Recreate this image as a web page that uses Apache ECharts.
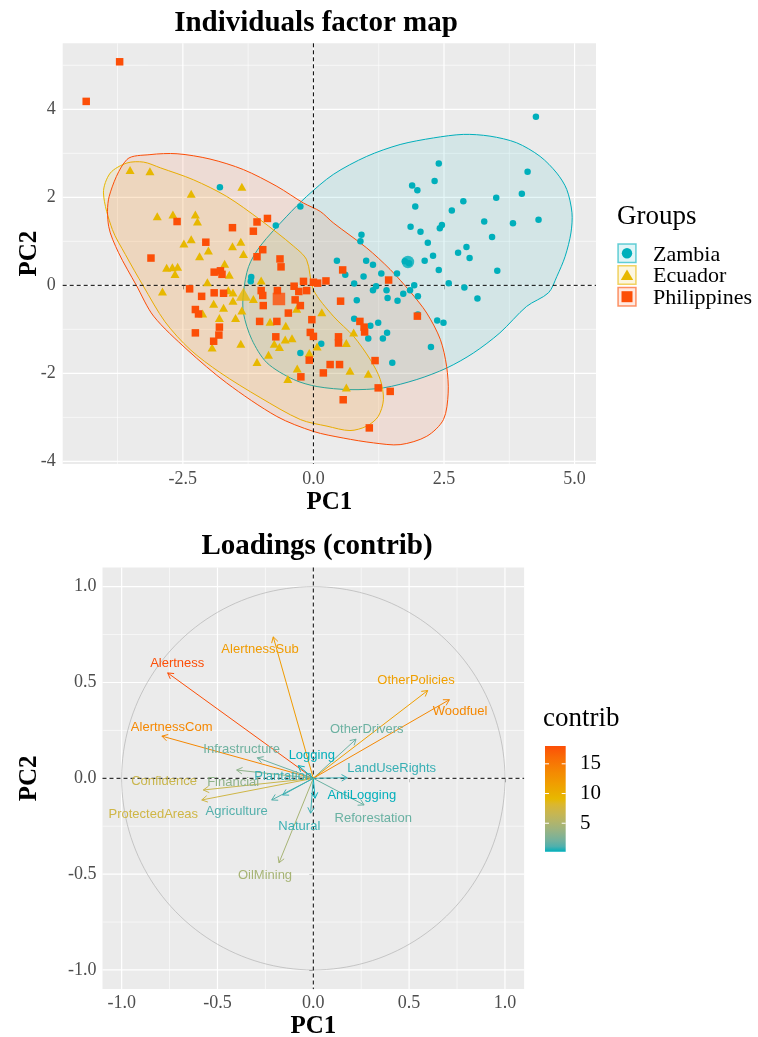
<!DOCTYPE html>
<html><head><meta charset="utf-8">
<script src="https://cdn.jsdelivr.net/npm/echarts@6/dist/echarts.min.js"></script>
<style>html,body{margin:0;padding:0;background:#fff}#c{width:758px;height:1037px}</style>
</head><body><div id="c"></div>
<script>
// ---------------- DATA ----------------
const groupNames = ['Zambia', 'Ecuador', 'Philippines'];
const groupColors = ['#00AFBB', '#E7B800', '#FC4E07'];

const zambiaPts = [[4.26,3.83],[2.40,2.77],[2.32,2.37],[4.10,2.58],[1.89,2.27],[1.99,2.16],[3.50,1.99],[3.99,2.08],[2.87,1.91],[1.95,1.79],[2.65,1.70],[4.31,1.49],[3.82,1.41],[3.27,1.45],[1.86,1.33],[2.05,1.22],[2.42,1.30],[2.46,1.37],[3.42,1.10],[2.19,0.97],[0.92,1.15],[0.90,1.00],[2.93,0.87],[2.77,0.74],[2.99,0.62],[2.29,0.67],[2.13,0.56],[2.40,0.35],[3.52,0.33],[0.45,0.56],[0.61,0.24],[1.01,0.56],[1.14,0.47],[0.96,0.20],[1.30,0.27],[1.60,0.27],[0.78,0.04],[1.20,-0.02],[1.14,-0.11],[1.40,-0.11],[1.93,0.00],[1.85,-0.11],[2.59,0.05],[2.89,-0.05],[3.14,-0.30],[-0.25,1.79],[-1.79,2.23],[-0.72,1.36],[-1.19,0.19],[-1.20,0.09],[1.42,-0.29],[1.61,-0.35],[1.72,-0.19],[2.00,-0.25],[0.83,-0.34],[0.78,-0.76],[1.09,-0.92],[1.24,-0.85],[2.00,-0.66],[2.37,-0.80],[2.49,-0.85],[1.41,-1.08],[1.33,-1.21],[1.05,-1.21],[2.25,-1.40],[1.51,-1.76],[0.15,-1.33],[-0.25,-1.54],[1.75,0.55],[1.83,0.50]];
const ecuadorPts = [[-3.51,2.62],[-3.13,2.59],[-1.37,2.24],[-2.34,2.08],[-2.99,1.57],[-2.69,1.61],[-2.26,1.61],[-2.22,1.45],[-2.48,0.95],[-2.34,1.05],[-2.01,0.79],[-1.55,0.89],[-1.39,0.99],[-1.34,0.71],[-2.18,0.66],[-2.81,0.40],[-2.70,0.41],[-2.60,0.42],[-2.65,0.26],[-2.89,-0.14],[-1.70,0.49],[-1.61,0.24],[-2.03,0.07],[-1.00,0.11],[-1.63,-0.11],[-1.54,-0.16],[-1.54,-0.35],[-1.15,-0.31],[-1.91,-0.42],[-1.72,-0.51],[-1.37,-0.57],[-2.12,-0.64],[-1.80,-0.74],[-1.49,-0.74],[-0.83,-0.83],[-0.32,-0.53],[-0.53,-0.92],[-1.94,-1.41],[-1.39,-1.33],[-0.54,-1.23],[-0.41,-1.20],[-0.75,-1.33],[-0.65,-1.40],[-0.08,-1.54],[-0.86,-1.58],[-1.08,-1.74],[-0.31,-1.89],[-0.49,-2.13],[0.16,-0.61],[0.07,-1.39],[0.77,-1.07],[0.63,-1.31],[0.70,-1.94],[1.05,-2.01],[0.63,-2.32]];
const philippinesPts = [[-3.71,5.08],[-4.35,4.18],[-2.61,1.45],[-1.55,1.31],[-1.08,1.44],[-0.88,1.52],[-1.15,1.23],[-2.06,0.98],[-0.97,0.81],[-1.08,0.65],[-0.64,0.60],[-0.62,0.42],[-3.11,0.62],[-1.90,0.30],[-1.78,0.33],[-1.75,0.25],[-2.37,-0.08],[-2.14,-0.25],[-1.90,-0.17],[-1.72,-0.18],[-1.00,-0.12],[-0.97,-0.23],[-0.69,-0.12],[-2.26,-0.55],[-2.20,-0.65],[-0.96,-0.46],[-1.03,-0.82],[-0.70,-0.82],[-0.48,-0.63],[-0.35,-0.33],[-0.25,-0.46],[-0.37,-0.02],[-0.28,-0.14],[-0.13,-0.12],[-0.19,0.09],[0.00,0.07],[0.08,0.05],[0.24,0.10],[-0.03,-0.78],[-1.80,-0.95],[-1.81,-1.13],[-2.26,-1.08],[-1.91,-1.27],[-0.72,-1.17],[-0.06,-1.07],[0.00,-1.16],[-0.08,-1.70],[-0.24,-2.08],[0.56,0.35],[1.44,0.12],[0.52,-0.36],[0.89,-0.82],[0.97,-0.95],[0.98,-1.06],[1.99,-0.70],[0.48,-1.17],[0.48,-1.31],[1.18,-1.71],[0.32,-1.80],[0.50,-1.80],[0.19,-1.99],[1.24,-2.33],[1.47,-2.41],[0.57,-2.60],[1.07,-3.24]];
const groupMeans = [[1.81,0.53],[-1.34,-0.20],[-0.66,-0.31]];

const zambiaEllipse = [[2.87,3.43],[3.38,3.39],[3.89,3.24],[4.34,2.93],[4.66,2.55],[4.85,2.18],[4.95,1.65],[4.93,1.19],[4.82,0.66],[4.66,0.20],[4.50,-0.17],[4.08,-0.48],[3.57,-1.08],[3.06,-1.54],[2.55,-1.88],[1.98,-2.14],[1.34,-2.33],[0.70,-2.37],[0.07,-2.30],[-0.38,-2.14],[-0.89,-1.76],[-1.18,-1.23],[-1.34,-0.63],[-1.34,-0.17],[-1.24,0.43],[-1.02,0.89],[-0.51,1.57],[-0.13,2.02],[0.38,2.52],[1.02,2.93],[1.66,3.20],[2.30,3.35]];
const ecuadorEllipse = [[-4.02,2.10],[-3.89,2.55],[-3.57,2.78],[-3.25,2.80],[-2.93,2.67],[-2.30,2.40],[-1.66,2.02],[-1.02,1.49],[-0.38,0.89],[-0.13,0.58],[0.00,-0.10],[0.38,-0.70],[0.77,-1.16],[1.09,-1.69],[1.28,-2.14],[1.34,-2.60],[1.24,-2.98],[1.02,-3.20],[0.70,-3.30],[0.26,-3.20],[-0.25,-3.05],[-1.02,-2.55],[-1.79,-1.98],[-2.36,-1.46],[-2.84,-0.83],[-3.26,-0.01],[-3.60,0.70],[-3.85,1.27]];
const philippinesEllipse = [[-3.92,1.34],[-3.91,2.02],[-3.57,2.86],[-3.13,2.97],[-2.61,2.99],[-1.98,2.87],[-1.34,2.63],[-0.70,2.25],[-0.19,1.87],[0.13,1.68],[0.38,1.42],[1.02,0.85],[1.47,0.36],[1.85,-0.14],[2.17,-0.63],[2.43,-1.23],[2.55,-1.84],[2.58,-2.45],[2.49,-3.05],[2.17,-3.43],[1.66,-3.62],[1.15,-3.58],[0.57,-3.47],[0.00,-3.32],[-0.70,-2.98],[-1.66,-2.22],[-2.42,-1.46],[-3.06,-0.70],[-3.39,0.00],[-3.73,0.74]];

const varNames   = ['Alertness','AlertnessSub','AlertnessCom','Infrastructure','Financial','Confidence','ProtectedAreas','Agriculture','Plantation','Natural','OilMining','Logging','OtherDrivers','OtherPolicies','Woodfuel','LandUseRights','AntiLogging','Reforestation'];
const varPC1     = [-0.760,-0.209,-0.790,-0.292,-0.400,-0.574,-0.582,-0.217,-0.160,-0.014,-0.179,-0.078,0.223,0.597,0.710,0.177,0.009,0.265];
const varPC2     = [0.550,0.738,0.220,0.107,0.043,-0.061,-0.113,-0.113,-0.087,-0.182,-0.441,0.066,0.204,0.458,0.410,0.003,-0.104,-0.139];
const varContrib = [18.0,12.0,13.7,2.0,3.3,6.8,7.2,1.2,0.7,0.7,4.6,0.21,1.9,11.6,13.7,0.64,0.22,1.8];
const labelPC1   = [-0.710,-0.278,-0.739,-0.374,-0.418,-0.779,-0.835,-0.400,-0.157,-0.073,-0.252,-0.008,0.279,0.536,0.766,0.409,0.253,0.313];
const labelPC2   = [0.600,0.675,0.268,0.152,-0.021,-0.016,-0.187,-0.173,0.008,-0.251,-0.507,0.121,0.256,0.510,0.349,0.052,-0.087,-0.208];

const topXTicks = [-2.5, 0, 2.5, 5];
const topXMinor = [-3.75, -1.25, 1.25, 3.75];
const topYTicks = [-4, -2, 0, 2, 4];
const topYMinor = [-3, -1, 1, 3, 5];
const botTicks  = [-1, -0.5, 0, 0.5, 1];
const botMinor  = [-0.75, -0.25, 0.25, 0.75];
const contribTicks = [5, 10, 15];
const gradientCols = ['#00AFBB', '#E7B800', '#FC4E07'];

// ---------------- HELPERS ----------------
const SERIF = "'Liberation Serif','Times New Roman',serif";
const SANS = "'Liberation Sans',Arial,sans-serif";
function hexToRgb(h){return [parseInt(h.slice(1,3),16),parseInt(h.slice(3,5),16),parseInt(h.slice(5,7),16)];}
function rgba(h,a){const c=hexToRgb(h);return 'rgba('+c[0]+','+c[1]+','+c[2]+','+a+')';}
function toLin(c){c/=255;return c<=0.04045?c/12.92:Math.pow((c+0.055)/1.055,2.4);}
function fromLin(c){const v=c<=0.0031308?12.92*c:1.055*Math.pow(c,1/2.4)-0.055;return Math.round(Math.max(0,Math.min(1,v))*255);}
function rgbToLab(rgb){const r=toLin(rgb[0]),g=toLin(rgb[1]),b=toLin(rgb[2]);
  const X=(0.4124564*r+0.3575761*g+0.1804375*b)/0.95047,Y=(0.2126729*r+0.7151522*g+0.0721750*b),Z=(0.0193339*r+0.1191920*g+0.9503041*b)/1.08883;
  const f=t=>t>0.008856?Math.cbrt(t):7.787*t+16/116;const fx=f(X),fy=f(Y),fz=f(Z);
  return [116*fy-16,500*(fx-fy),200*(fy-fz)];}
function labToHex(lab){const fy=(lab[0]+16)/116,fx=fy+lab[1]/500,fz=fy-lab[2]/200;
  const fi=t=>{const t3=t*t*t;return t3>0.008856?t3:(t-16/116)/7.787;};
  const X=fi(fx)*0.95047,Y=fi(fy),Z=fi(fz)*1.08883;
  const r=3.2404542*X-1.5371385*Y-0.4985314*Z,g=-0.9692660*X+1.8760108*Y+0.0415560*Z,b=0.0556434*X-0.2040259*Y+1.0572252*Z;
  const h=v=>('0'+fromLin(v).toString(16)).slice(-2);return '#'+h(r)+h(g)+h(b);}
const labCols = gradientCols.map(c=>rgbToLab(hexToRgb(c)));
const cMin = Math.min(...varContrib), cMax = Math.max(...varContrib);
function gradAt(t){t=Math.max(0,Math.min(1,t));const seg=t<0.5?0:1;const u=seg===0?t*2:(t-0.5)*2;
  const a=labCols[seg],b=labCols[seg+1];return labToHex([a[0]+(b[0]-a[0])*u,a[1]+(b[1]-a[1])*u,a[2]+(b[2]-a[2])*u]);}
function contribColor(v){return gradAt((v-cMin)/(cMax-cMin));}

function gridSeries(gi, majX, minX, majY, minY){
  return {type:'custom', xAxisIndex:gi, yAxisIndex:gi, z:1, silent:true, clip:false, data:[[0,0]],
    renderItem:function(params, api){
      const cs=params.coordSys; const ch=[];
      const vx=(v,w)=>{const p=api.coord([v,0]);ch.push({type:'line',shape:{x1:p[0],y1:cs.y,x2:p[0],y2:cs.y+cs.height},style:{stroke:'#fff',lineWidth:w}});};
      const hy=(v,w)=>{const p=api.coord([0,v]);ch.push({type:'line',shape:{x1:cs.x,y1:p[1],x2:cs.x+cs.width,y2:p[1]},style:{stroke:'#fff',lineWidth:w}});};
      minX.forEach(v=>vx(v,0.6)); minY.forEach(v=>hy(v,0.6));
      majX.forEach(v=>vx(v,1.2)); majY.forEach(v=>hy(v,1.2));
      return {type:'group',children:ch};
    }};
}
function zeroSeries(gi){
  return {type:'custom', xAxisIndex:gi, yAxisIndex:gi, z:3, silent:true, clip:false, data:[[0,0]],
    renderItem:function(params, api){
      const cs=params.coordSys; const p=api.coord([0,0]);
      const st={stroke:'#000',lineWidth:1,lineDash:[4,3]};
      return {type:'group',children:[
        {type:'line',shape:{x1:p[0],y1:cs.y,x2:p[0],y2:cs.y+cs.height},style:st},
        {type:'line',shape:{x1:cs.x,y1:p[1],x2:cs.x+cs.width,y2:p[1]},style:st}]};
    }};
}
function axisCommon(ticks, fmt, margin){
  return {type:'value', axisLine:{show:false}, splitLine:{show:false}, nameMoveOverlap:false,
    axisTick:{show:true, customValues:ticks, length:4, lineStyle:{color:'#333333', width:1}},
    axisLabel:{customValues:ticks, formatter:fmt, margin:margin, color:'#4D4D4D', fontFamily:SERIF, fontSize:18}};
}
const nameStyle = {fontFamily:SERIF, fontWeight:'bold', fontSize:25, color:'#000'};
const f1 = v=>v.toFixed(1), f0 = v=>String(v);

const ellipses = [zambiaEllipse, ecuadorEllipse, philippinesEllipse];
const groupPts = [zambiaPts, ecuadorPts, philippinesPts];
const symbols = ['circle','triangle','rect'];
const symSizes = [6.5,[9,8],7.5];
const meanSizes = [12.5,[15,13],12.5];

const series = [];
series.push(gridSeries(0, topXTicks, topXMinor, topYTicks, topYMinor));
series.push({type:'custom', xAxisIndex:0, yAxisIndex:0, z:2, silent:true,
  data: ellipses.map((e,i)=>[e[0][0], e[0][1], i]),
  renderItem:function(params, api){
    const i=params.dataIndex; const pts=ellipses[i].map(p=>api.coord(p));
    return {type:'polygon', shape:{points:pts, smooth:0.3}, style:{fill:rgba(groupColors[i],0.1), stroke:groupColors[i], lineWidth:1}};
  }});
series.push(zeroSeries(0));
groupPts.forEach((pts,i)=>{
  series.push({type:'scatter', name:groupNames[i], xAxisIndex:0, yAxisIndex:0, z:4, symbol:symbols[i], symbolSize:symSizes[i],
    itemStyle:{color:groupColors[i], opacity:1}, data:pts, silent:true});
});
series.push({type:'scatter', xAxisIndex:0, yAxisIndex:0, z:5, silent:true,
  data: groupMeans.map((m,i)=>({value:m, symbol:symbols[i], symbolSize:meanSizes[i], itemStyle:{color:groupColors[i]}}))});

// bottom
series.push(gridSeries(1, botTicks, botMinor, botTicks, botMinor));
series.push({type:'custom', xAxisIndex:1, yAxisIndex:1, z:2, silent:true, clip:false, data:[[0,0]],
  renderItem:function(params, api){
    const pts=[]; for(let k=0;k<=360;k+=2){const a=k*Math.PI/180;pts.push(api.coord([Math.cos(a),Math.sin(a)]));}
    return {type:'polyline', shape:{points:pts}, style:{stroke:'#B3B3B3', lineWidth:0.7, fill:null}};
  }});
series.push(zeroSeries(1));
series.push({type:'custom', xAxisIndex:1, yAxisIndex:1, z:4, silent:true, clip:false,
  data: varNames.map((n,i)=>[varPC1[i], varPC2[i], varContrib[i]]),
  renderItem:function(params, api){
    const p0=api.coord([0,0]); const p1=api.coord([api.value(0), api.value(1)]);
    const col=contribColor(api.value(2));
    const ang=Math.atan2(p1[1]-p0[1], p1[0]-p0[0]); const L=6.5, a=Math.PI/6;
    const h1=[p1[0]-L*Math.cos(ang-a), p1[1]-L*Math.sin(ang-a)];
    const h2=[p1[0]-L*Math.cos(ang+a), p1[1]-L*Math.sin(ang+a)];
    return {type:'group', children:[
      {type:'line', shape:{x1:p0[0],y1:p0[1],x2:p1[0],y2:p1[1]}, style:{stroke:col, lineWidth:1}},
      {type:'polyline', shape:{points:[h1,p1,h2]}, style:{stroke:col, lineWidth:1, fill:null}}]};
  }});
series.push({type:'custom', xAxisIndex:1, yAxisIndex:1, z:5, silent:true, clip:false,
  data: varNames.map((n,i)=>[labelPC1[i], labelPC2[i], varContrib[i]]),
  renderItem:function(params, api){
    const p=api.coord([api.value(0), api.value(1)]);
    return {type:'text', x:p[0], y:p[1], style:{text:varNames[params.dataIndex], fill:contribColor(api.value(2)),
      font:'13px '+SANS, align:'center', verticalAlign:'middle'}};
  }});

// ---------------- GRAPHIC (titles, legends) ----------------
const graphic = [];
graphic.push({type:'text', x:316, y:23.5, style:{text:'Individuals factor map', font:'bold 29px '+SERIF, fill:'#000', align:'center', verticalAlign:'middle'}});
graphic.push({type:'text', x:317, y:547, style:{text:'Loadings (contrib)', font:'bold 29px '+SERIF, fill:'#000', align:'center', verticalAlign:'middle'}});
graphic.push({type:'text', x:617, y:217, style:{text:'Groups', font:'27px '+SERIF, fill:'#000', align:'left', verticalAlign:'middle'}});
groupNames.forEach((n,i)=>{
  const x0=617.3, y0=243.3+i*21.7, w=19.4, h=20, cx=x0+w/2, cy=y0+h/2;
  graphic.push({type:'rect', shape:{x:x0+0.75,y:y0+0.75,width:w-1.5,height:h-1.5}, style:{fill:rgba(groupColors[i],0.12), stroke:rgba(groupColors[i],0.6), lineWidth:1.5}});
  if(i===0) graphic.push({type:'circle', shape:{cx:cx,cy:cy,r:5.2}, style:{fill:groupColors[i]}});
  if(i===1) graphic.push({type:'polygon', shape:{points:[[cx,cy-5.5],[cx+6.2,cy+5],[cx-6.2,cy+5]]}, style:{fill:groupColors[i]}});
  if(i===2) graphic.push({type:'rect', shape:{x:cx-5.5,y:cy-5.5,width:11,height:11}, style:{fill:groupColors[i]}});
  graphic.push({type:'text', x:653, y:cy+1.5, style:{text:n, font:'22px '+SERIF, fill:'#000', align:'left', verticalAlign:'middle'}});
});
// colorbar
const barX=545, barW=20.7, barTop=746, barBot=851.7;
const cy = v => barBot-(v-cMin)/(cMax-cMin)*(barBot-barTop);
graphic.push({type:'text', x:543, y:719, style:{text:'contrib', font:'27px '+SERIF, fill:'#000', align:'left', verticalAlign:'middle'}});
const stops=[]; for(let k=0;k<=20;k++){stops.push({offset:k/20, color:gradAt(k/20)});}
graphic.push({type:'rect', shape:{x:barX,y:barTop,width:barW,height:barBot-barTop},
  style:{fill:{type:'linear',x:0,y:1,x2:0,y2:0,colorStops:stops}}});
contribTicks.forEach(v=>{
  const y=cy(v);
  graphic.push({type:'line', shape:{x1:barX,y1:y,x2:barX+4,y2:y}, style:{stroke:'#fff',lineWidth:1}});
  graphic.push({type:'line', shape:{x1:barX+barW-4,y1:y,x2:barX+barW,y2:y}, style:{stroke:'#fff',lineWidth:1}});
  graphic.push({type:'text', x:580, y:y, style:{text:String(v), font:'21px '+SERIF, fill:'#000', align:'left', verticalAlign:'middle'}});
});

const option = {
  backgroundColor:'#fff', animation:false,
  grid:[
    {left:62.7, top:43.3, width:533.3, height:420.7, show:true, backgroundColor:'#EBEBEB', borderWidth:0, outerBoundsMode:'none', containLabel:false},
    {left:102.5, top:567.5, width:421.6, height:421.6, show:true, backgroundColor:'#EBEBEB', borderWidth:0, outerBoundsMode:'none', containLabel:false}
  ],
  xAxis:[
    Object.assign(axisCommon(topXTicks, f1, 6), {gridIndex:0, min:-4.80, max:5.41, name:'PC1', nameLocation:'middle', nameGap:26, nameTextStyle:nameStyle}),
    Object.assign(axisCommon(botTicks, f1, 5.5), {gridIndex:1, min:-1.1, max:1.1, name:'PC1', nameLocation:'middle', nameGap:25, nameTextStyle:nameStyle})
  ],
  yAxis:[
    Object.assign(axisCommon(topYTicks, f0, 7), {gridIndex:0, min:-4.06, max:5.50, name:'PC2', nameLocation:'middle', nameGap:21, nameTextStyle:nameStyle}),
    Object.assign(axisCommon(botTicks, f1, 6), {gridIndex:1, min:-1.1, max:1.1, name:'PC2', nameLocation:'middle', nameGap:60.5, nameTextStyle:nameStyle})
  ],
  series: series,
  graphic: graphic
};
const chart = echarts.init(document.getElementById('c'), null, {renderer:'canvas'});
chart.setOption(option);
</script></body></html>
